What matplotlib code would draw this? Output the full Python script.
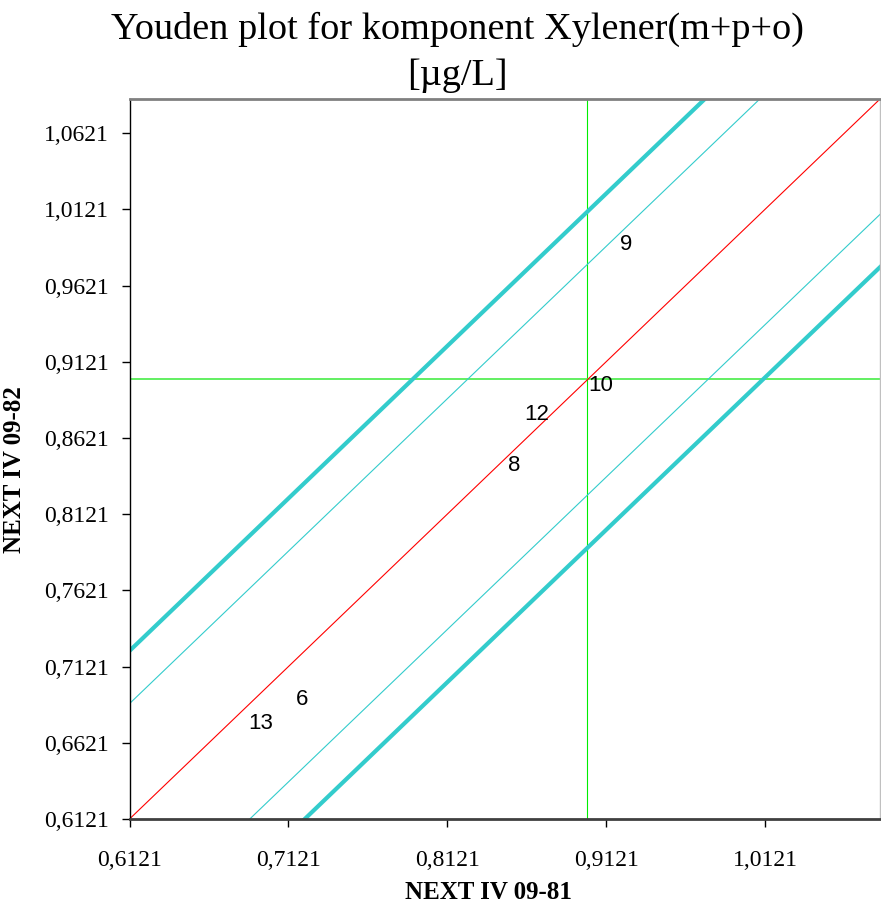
import numpy as np
import matplotlib
matplotlib.use('Agg')
import matplotlib.pyplot as plt

# lab results (x = sample 09-81, y = sample 09-82), estimated from the plot
labs = ['9', '10', '12', '8', '6', '13']
x_vals = [0.9208, 0.9006, 0.8604, 0.8503, 0.7169, 0.6867]
y_vals = [0.9892, 0.8966, 0.8775, 0.8440, 0.6903, 0.6745]

median_x = 0.9000
median_y = 0.9005
# offsets of the parallel limit lines from the 45 degree line
inner_offset = 0.0757
outer_offset = 0.1103

lo, hi = 0.6121, 1.0845
ticks_x = [0.6121, 0.7121, 0.8121, 0.9121, 1.0121]
ticks_y = [0.6121, 0.6621, 0.7121, 0.7621, 0.8121, 0.8621, 0.9121, 0.9621, 1.0121, 1.0621]

serif = 'Liberation Serif'
sans = 'Liberation Sans'

fig = plt.figure(figsize=(8.81, 9.15), dpi=100)
ax = fig.add_axes([0.147, 0.1049, 0.8519, 0.7869])

xs = np.array([lo - 0.2, hi + 0.2])
ax.plot(xs, xs, color='#ff0000', lw=0.8, zorder=2)
for c in (inner_offset, -inner_offset):
    ax.plot(xs, xs + c, color='#33cccc', lw=0.8, zorder=2)
for c in (outer_offset, -outer_offset):
    ax.plot(xs, xs + c, color='#33cccc', lw=3, zorder=2, solid_capstyle='butt')

ax.axvline(median_x, color='#00ee00', lw=0.8, zorder=1)
ax.axhline(median_y, color='#55ee55', lw=1.3, zorder=1)

for lab, x, y in zip(labs, x_vals, y_vals):
    ax.text(x, y, lab, ha='left', va='center', fontsize=16, family=sans, zorder=3)

ax.set_xlim(lo, hi)
ax.set_ylim(lo, hi)
ax.set_xticks(ticks_x)
ax.set_yticks(ticks_y)
ax.set_xticklabels([('%.4f' % t).replace('.', ',') for t in ticks_x], family=serif, fontsize=17)
ax.set_yticklabels([('%.4f' % t).replace('.', ',') for t in ticks_y], family=serif, fontsize=17)
ax.tick_params(direction='out', length=6, width=1)
ax.tick_params(axis='x', pad=16)
ax.tick_params(axis='y', pad=9)

ax.spines['left'].set_color('black')
ax.spines['left'].set_linewidth(1)
ax.spines['bottom'].set_color('#404040')
ax.spines['bottom'].set_linewidth(2)
ax.spines['top'].set_color('#808080')
ax.spines['top'].set_linewidth(2)
ax.spines['right'].set_color('#c0c0c0')
ax.spines['right'].set_linewidth(1)

ax.set_xlabel('NEXT IV 09-81', family=serif, fontsize=18, fontweight='bold')
ax.set_ylabel('NEXT IV 09-82', family=serif, fontsize=18, fontweight='bold')
ax.xaxis.set_label_coords(0.478, -0.086)
ax.yaxis.set_label_coords(-0.138, 0.485)
fig.text(0.519, 0.987, 'Youden plot for komponent Xylener(m+p+o)\n[µg/L]', ha='center', va='top',
         family=serif, fontsize=27.5, linespacing=1.42)

fig.savefig('out.png', dpi=100)
